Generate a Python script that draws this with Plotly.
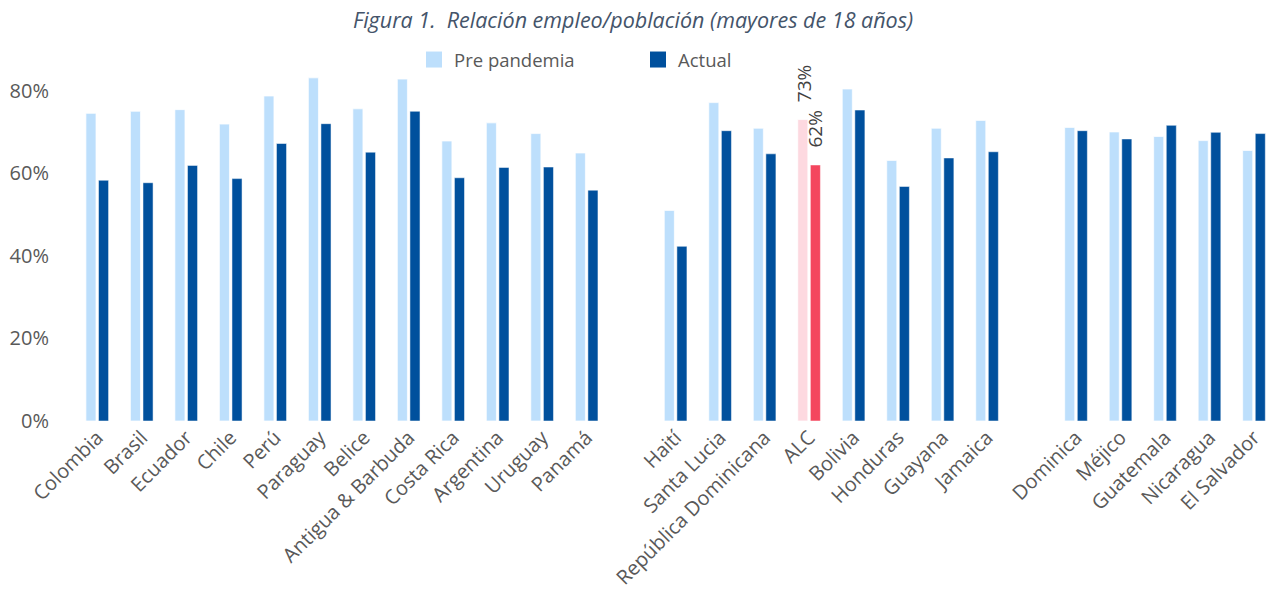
import plotly.graph_objects as go

# Employment-to-population ratio, adults 18+ (share)
countries = [
    "Colombia", "Brasil", "Ecuador", "Chile", "Perú", "Paraguay", "Belice",
    "Antigua & Barbuda", "Costa Rica", "Argentina", "Uruguay", "Panamá",
    " ",
    "Haití", "Santa Lucia", "República Dominicana", "ALC", "Bolivia",
    "Honduras", "Guayana", "Jamaica",
    "  ",
    "Dominica", "Méjico", "Guatemala", "Nicaragua", "El Salvador",
]
pre_pandemia = [
    0.745, 0.750, 0.754, 0.719, 0.787, 0.831, 0.756,
    0.828, 0.678, 0.722, 0.696, 0.649,
    None,
    0.510, 0.771, 0.709, 0.73, 0.804,
    0.631, 0.709, 0.728,
    None,
    0.711, 0.700, 0.689, 0.679, 0.655,
]
actual = [
    0.583, 0.577, 0.619, 0.587, 0.672, 0.720, 0.651,
    0.750, 0.589, 0.614, 0.615, 0.559,
    None,
    0.423, 0.703, 0.647, 0.62, 0.753,
    0.568, 0.637, 0.652,
    None,
    0.703, 0.683, 0.716, 0.699, 0.696,
]
highlight = "ALC"

PRE_COLOR, PRE_HL = "#BDDFFC", "#FDD9E0"
ACT_COLOR, ACT_HL = "#00509D", "#F4465E"
TEXT_GREY = "#595959"
FONT = "Open Sans"

pre_colors = [PRE_HL if c == highlight else PRE_COLOR for c in countries]
act_colors = [ACT_HL if c == highlight else ACT_COLOR for c in countries]

fig = go.Figure()
fig.add_trace(go.Bar(
    name="Pre pandemia", x=countries, y=pre_pandemia, legendgroup="pre",
    showlegend=False,
    marker=dict(color=pre_colors, line=dict(color="rgba(255,255,255,0.7)", width=1)),
    hoverinfo="x+y",
))
fig.add_trace(go.Bar(
    name="Actual", x=countries, y=actual, legendgroup="act",
    showlegend=False,
    marker=dict(color=act_colors, line=dict(color="rgba(255,255,255,0.5)", width=1)),
    hoverinfo="x+y",
))
# legend entries with larger square swatches
for name, color, group in (("Pre pandemia", PRE_COLOR, "pre"), ("Actual", ACT_COLOR, "act")):
    fig.add_trace(go.Scatter(
        name=name, x=[None], y=[None], mode="markers", legendgroup=group,
        marker=dict(symbol="square", size=18, color=color),
        hoverinfo="skip",
    ))

# value labels over the regional average bars
hl_idx = countries.index(highlight)
for val, shift in ((pre_pandemia[hl_idx], -5), (actual[hl_idx], 6)):
    fig.add_annotation(
        x=highlight, y=val, text=f"{val:.0%}", showarrow=False,
        textangle=-90, xanchor="center", yanchor="bottom",
        xshift=shift, yshift=15,
        font=dict(family=FONT, size=19, color="#404040"),
    )

fig.update_layout(
    width=1266, height=600,
    paper_bgcolor="white", plot_bgcolor="white",
    margin=dict(l=75, r=0, t=69.5, b=179.4, autoexpand=False),
    barmode="group", bargap=0.434, bargroupgap=0.2,
    font=dict(family=FONT, size=19, color=TEXT_GREY),
    title=dict(
        text="Figura 1.\u00a0\u00a0Relación empleo/población (mayores de 18 años)",
        x=0.5, xanchor="center", y=1 - 20 / 600, yanchor="middle",
        font=dict(family=FONT, size=21.5, color="#44546A", style="italic"),
    ),
    legend=dict(
        orientation="h", xref="container", yref="container",
        x=414 / 1266, xanchor="left", y=1 - 41 / 600, yanchor="top",
        entrywidth=179, entrywidthmode="pixels",
        font=dict(family=FONT, size=18.5, color=TEXT_GREY),
        bgcolor="rgba(0,0,0,0)",
    ),
    showlegend=True,
)
fig.update_xaxes(
    type="category", range=[-0.5, 26.27], tickangle=-45,
    showgrid=False, showline=False, zeroline=False, ticks="",
    tickfont=dict(family=FONT, size=20, color=TEXT_GREY),
)
fig.update_yaxes(
    range=[0, 0.85], tickvals=[0, 0.2, 0.4, 0.6, 0.8], tickformat=".0%",
    showgrid=False, zeroline=False, showline=False,
    ticks="outside", ticklen=21, tickcolor="rgba(0,0,0,0)",
    tickfont=dict(family=FONT, size=20, color=TEXT_GREY),
)

fig.write_html("out.html")
